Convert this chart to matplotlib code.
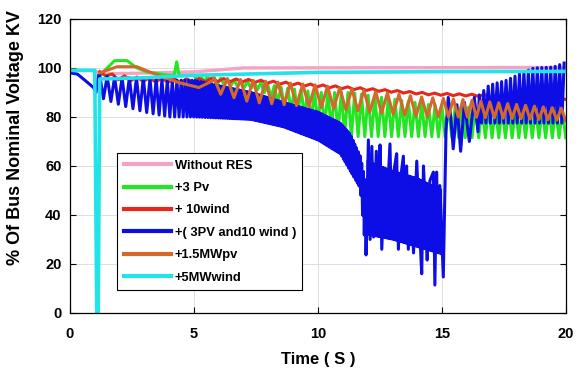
import numpy as np
import matplotlib
matplotlib.use('Agg')
import matplotlib.pyplot as plt

# ---- values ----
# Without RES
pink_t = [0, 1.0, 1.2, 5, 7, 20]
pink_v = [99, 99, 97.5, 98.4, 100, 100.2]

# +5MWwind (short collapse to zero at ~1.1 s)
cyan_t = [0, 1.0, 1.08, 1.14, 1.2, 3, 5, 10, 15, 20]
cyan_v = [99, 99, 0, 0, 95.5, 96, 97, 98.2, 98.5, 98.6]

# +3 Pv : start, then oscillation envelope
green_t0 = [1.2, 1.5, 1.8, 2.3, 2.7, 3.1, 4.0, 4.2, 4.3, 4.4, 5.0]
green_v0 = [97, 100, 103, 103, 100, 98.4, 97, 97, 102.5, 97, 97]
green_t = [5, 7.7, 8.6, 10, 11.3, 14.5, 16, 20]
green_hi = [97, 94, 92, 90, 90, 85, 84, 83]
green_lo = [95, 91, 84, 77.5, 72, 72, 71.5, 71.5]
green_per = 0.27

# + 10wind
red_t = [1.2, 2, 3, 4.4, 5.8, 7.3, 10, 14.5, 16.5, 20]
red_hi = [98.5, 97, 96, 95.5, 95.8, 95.3, 93.2, 89.8, 89.2, 88]
red_lo = [97.5, 95, 94.5, 94, 94.5, 94.2, 92.2, 89, 88.4, 87.2]
red_per = 0.5

# +( 3PV and10 wind )
blue_t0 = [0, 0.3, 0.6, 0.95, 1.05, 1.15]
blue_v0 = [98, 97.5, 95, 92, 90, 97]
blue_t = [1.2, 2, 3, 4, 5, 7.3, 8.6, 10, 10.9, 11.3, 11.7, 11.95]
blue_hi = [97, 96, 96, 95, 95, 90, 86, 82, 77.5, 73, 64, 52]
blue_lo = [88, 85, 82, 80, 80, 79, 76, 70.6, 65, 58, 51, 22]
blue_per = [0.3, 0.3, 0.27, 0.2, 0.12, 0.07, 0.07, 0.07, 0.07, 0.07, 0.07, 0.07]
# collapse region 12-15 s (spikes)
spike_t = [12.03, 12.1, 12.17, 12.24, 12.35, 12.44, 12.5, 12.57, 12.67, 12.75,
           12.9, 12.98, 13.06, 13.17, 13.24, 13.33, 13.44, 13.5, 13.57, 13.64,
           13.74, 13.85, 13.98, 14.09, 14.18, 14.25, 14.34, 14.4, 14.51, 14.65,
           14.71, 14.78, 14.85, 14.91, 15.05]
spike_v = [70.6, 30, 68, 31, 66, 35, 68.6, 26, 55, 38,
           69, 31, 58, 65, 26, 55, 64, 36, 60, 26,
           52, 24.5, 62, 35, 16, 60, 40, 21.6, 54, 57.5,
           11.4, 57.5, 25, 52, 14.7]
chaos_t = [12.0, 13.0, 14.0, 15.0]
chaos_hi = [62, 58, 55, 50]
chaos_lo = [32, 30, 27, 24]
chaos_per = 0.05
# recovery after 15 s
rec_t = [15.16, 15.25, 15.35, 15.45, 15.6, 15.75, 15.9, 16.1, 16.3, 16.45]
rec_v = [75, 88, 80, 67, 85, 66, 86, 70, 88, 74]
blue_t2 = [16.5, 16.9, 17.6, 18.3, 18.7, 19.5, 19.9, 20]
blue_hi2 = [89, 93, 95, 98.4, 100, 100.4, 102, 102]
blue_lo2 = [77.5, 77.5, 77.5, 77.5, 77.5, 77.5, 77.5, 77.5]
blue_per2 = 0.18

# +1.5MWpv
orange_t0 = [1.2, 1.9, 2.7, 3.3, 4.4, 5.2, 5.8]
orange_v0 = [98, 100.5, 100.5, 98, 94, 92, 95]
orange_t = [5.8, 7.3, 10, 14.3, 16, 19.5, 20]
orange_hi = [96, 95, 93, 88, 87, 83.7, 83.5]
orange_lo = [90, 86, 84, 80, 80, 78.8, 78.5]
orange_per = [0.55, 0.5, 0.5, 0.45, 0.36, 0.36, 0.36]

labels = ['Without RES', '+3 Pv', '+ 10wind', '+( 3PV and10 wind )',
          '+1.5MWpv', '+5MWwind']
colors = ['#f4a3c4', '#22e622', '#e8261c', '#0d0de6', '#d2692a', '#22e3e8']


def zigzag(t, hi, lo, per):
    # alternate between the upper and lower envelope every half period
    t = np.asarray(t, float)
    per = np.broadcast_to(np.asarray(per, float), t.shape)
    xs, ys = [], []
    x, k = t[0], 0
    while x <= t[-1]:
        xs.append(x)
        ys.append(np.interp(x, t, hi if k % 2 == 0 else lo))
        x += np.interp(x, t, per) / 2
        k += 1
    return np.array(xs), np.array(ys)


plt.rcParams['font.family'] = ['Liberation Sans', 'DejaVu Sans']
plt.rcParams['font.weight'] = 'bold'

fig = plt.figure(figsize=(5.83, 3.76), dpi=100)
ax = fig.add_axes([0.120, 0.1676, 0.851, 0.782])

lw = 2.2
ax.plot(pink_t, pink_v, color=colors[0], lw=2.4, label=labels[0])

gx, gy = zigzag(green_t, green_hi, green_lo, green_per)
ax.plot(np.r_[green_t0, gx], np.r_[green_v0, gy], color=colors[1], lw=lw, label=labels[1])

rx, ry = zigzag(red_t, red_hi, red_lo, red_per)
ax.plot(rx, ry, color=colors[2], lw=lw, label=labels[2])

cx, cy = zigzag(chaos_t, chaos_hi, chaos_lo, chaos_per)
ax.plot(cx, cy, color=colors[3], lw=1.6)
bx, by = zigzag(blue_t, blue_hi, blue_lo, blue_per)
bx2, by2 = zigzag(blue_t2, blue_hi2, blue_lo2, blue_per2)
ax.plot(np.r_[blue_t0, bx, spike_t, rec_t, bx2],
        np.r_[blue_v0, by, spike_v, rec_v, by2],
        color=colors[3], lw=lw, label=labels[3])

ox, oy = zigzag(orange_t, orange_hi, orange_lo, orange_per)
ax.plot(np.r_[orange_t0, ox], np.r_[orange_v0, oy], color=colors[4], lw=lw, label=labels[4])

ax.plot(cyan_t, cyan_v, color=colors[5], lw=2.6, label=labels[5])

ax.set_xlim(0, 20)
ax.set_ylim(0, 120)
ax.set_xticks([0, 5, 10, 15, 20])
ax.set_yticks([0, 20, 40, 60, 80, 100, 120])
ax.grid(color='#dedede', lw=0.7)
ax.set_axisbelow(True)
ax.tick_params(direction='in', length=4, top=True, right=True, labelsize=10.5, width=0.8)
ax.tick_params(axis='x', pad=10)
ax.tick_params(axis='y', pad=6)
for s in ax.spines.values():
    s.set_linewidth(0.9)

ax.set_xlabel('Time ( S )', fontsize=12, fontweight='bold', labelpad=8)
ax.set_ylabel('% Of Bus Nominal Voltage KV', fontsize=13, fontweight='bold')
ax.yaxis.set_label_coords(-0.092, 0.595)

leg = ax.legend(loc='lower left', bbox_to_anchor=(0.095, 0.078), fontsize=9.3,
                frameon=True, fancybox=False, framealpha=1, edgecolor='black',
                handlelength=3.7, handletextpad=0.25, labelspacing=0.8,
                borderpad=0.5, borderaxespad=0)
leg.get_frame().set_linewidth(0.8)
for line in leg.get_lines():
    line.set_linewidth(3)

fig.savefig('out.png', dpi=100)
